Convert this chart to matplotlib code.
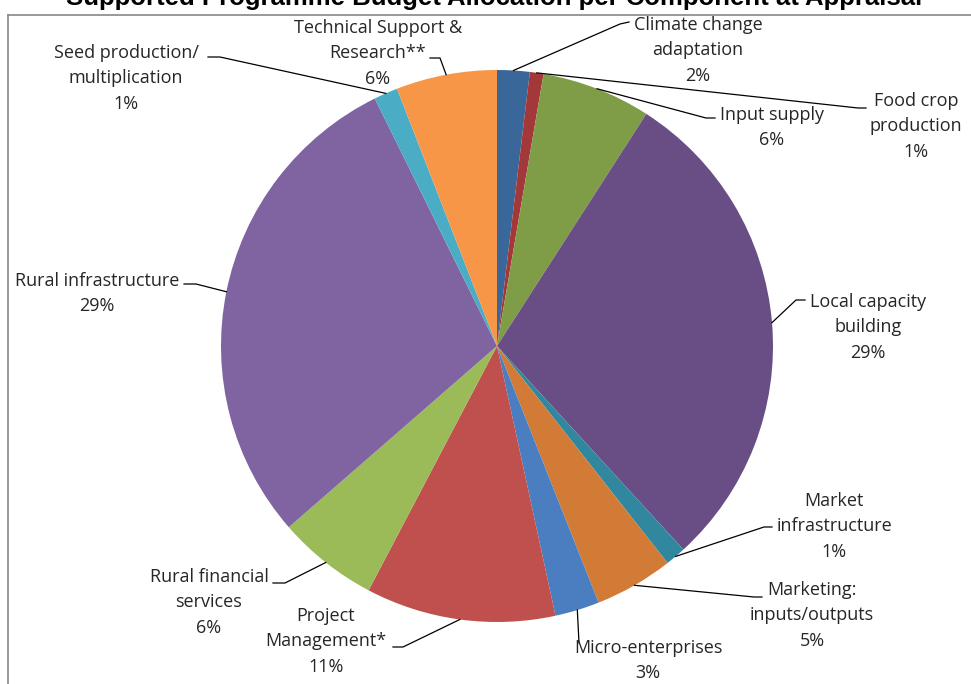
import numpy as np
import matplotlib
matplotlib.use("Agg")
import matplotlib.pyplot as plt

# slices, clockwise from 12 o'clock
names = ["Climate change\nadaptation", "Food crop\nproduction", "Input supply",
         "Local capacity\nbuilding", "Market\ninfrastructure", "Marketing:\ninputs/outputs",
         "Micro-enterprises", "Project\nManagement*", "Rural financial\nservices",
         "Rural infrastructure", "Seed production/\nmultiplication", "Technical Support &\nResearch**"]
values = [1.9, 0.8, 6.4, 29.1, 1.2, 4.6, 2.6, 11.1, 5.9, 29.1, 1.4, 5.9]
colors = ["#3A6799", "#A3383A", "#7F9D47", "#694E86", "#31879E", "#D27B36",
          "#4A7EC0", "#C0504D", "#9BBB59", "#8064A2", "#4BACC6", "#F79646"]

W, H = 971, 684
fig = plt.figure(figsize=(W / 100, H / 100), dpi=100)
ax = fig.add_axes([0, 0, 1, 1])

cx, cy, R = 497, H - 346, 276
wedges, _ = ax.pie(values, colors=colors, startangle=90, counterclock=False,
                   center=(cx, cy), radius=R, frame=True,
                   wedgeprops=dict(linewidth=0))
ax.set_xlim(0, W); ax.set_ylim(0, H); ax.set_axis_off()

# label layout in image pixels: text centre x, first line y, elbow point, horizontal end
layout = [
    (698, 24, (620, 24), (629, 22)),
    (916, 100, (858, 108), (866, 108)),
    (772, 114, (706, 118), (715, 118)),
    (868, 301, (796, 300), (805, 300)),
    (834, 500, (764, 527), (772, 527)),
    (812, 589, (754, 597), (762, 597)),
    (648, 647, (579, 643), (579, 643)),
    (326, 615, (403, 647), (393, 647)),
    (209, 576, (285, 583), (273, 583)),
    (97, 280, (196, 284), (184, 284)),
    (126, 52, (220, 57), (208, 57)),
    (378, 27, (440, 58), (430, 58)),
]

total = sum(values)
for w, v, nm, (tx, ty, elb, hend) in zip(wedges, values, names, layout):
    mid = np.deg2rad((w.theta1 + w.theta2) / 2)
    ex, ey = cx + R * np.cos(mid), cy + R * np.sin(mid)
    ax.plot([ex, elb[0], hend[0]], [ey, H - elb[1], H - hend[1]], color="black", lw=0.9)
    txt = nm + "\n%d%%" % round(v / total * 100)
    ax.text(tx, H - ty + 8, txt, ha="center", va="top", fontsize=13, family="Open Sans",
            linespacing=1.53, color="#262626")

# chart frame and cropped title
fig.add_artist(plt.Line2D([8 / W, 8 / W], [0, 1 - 15 / H], color="#888888", lw=1.2))
fig.add_artist(plt.Line2D([8 / W, 1], [1 - 15 / H, 1 - 15 / H], color="#888888", lw=1.2))
fig.text(66 / W, 1 - 5 / H, "Supported Programme Budget Allocation per Component at Appraisal",
         ha="left", va="baseline", fontsize=18.5, fontweight="bold", family="Liberation Sans")

fig.savefig("out.png", dpi=100)
